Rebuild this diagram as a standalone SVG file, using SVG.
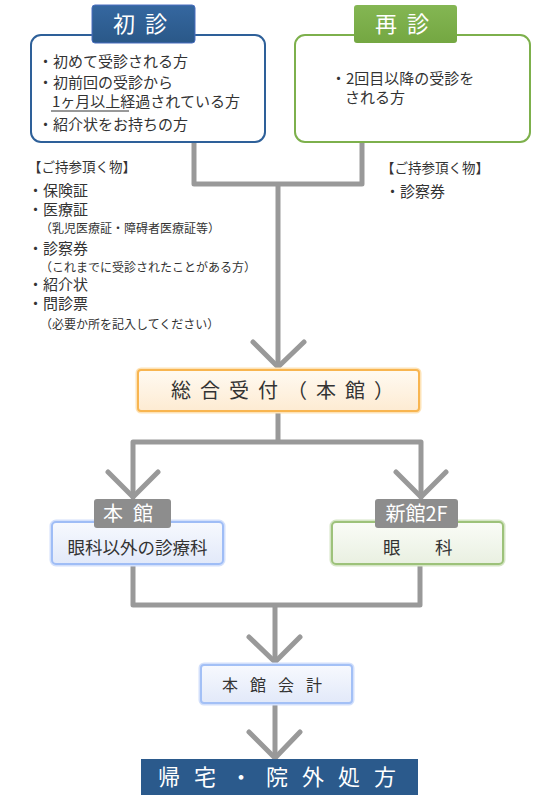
<svg xmlns="http://www.w3.org/2000/svg" width="550" height="800" viewBox="0 0 550 800">
<defs>
<style>
text{font-family:"Noto Sans CJK JP","Noto Sans",sans-serif;fill:#333}
.t{font-size:15px}
.s{font-size:12px}
.b{font-size:15px}
.w{fill:#fff}
.conn{fill:none;stroke:#999;stroke-width:5;stroke-linecap:round;stroke-linejoin:round}
</style>
<linearGradient id="gOr" x1="0" y1="0" x2="0" y2="1"><stop offset="0" stop-color="#fffaf2"/><stop offset="1" stop-color="#fdebd2"/></linearGradient>
<linearGradient id="gBl" x1="0" y1="0" x2="0" y2="1"><stop offset="0" stop-color="#f7f9fe"/><stop offset="1" stop-color="#e2e9f9"/></linearGradient>
<linearGradient id="gGr" x1="0" y1="0" x2="0" y2="1"><stop offset="0" stop-color="#fafcf7"/><stop offset="1" stop-color="#e9f0e1"/></linearGradient>
<linearGradient id="gNv" x1="0" y1="0" x2="0" y2="1"><stop offset="0" stop-color="#3567a0"/><stop offset="1" stop-color="#2a5888"/></linearGradient>
<linearGradient id="gGn" x1="0" y1="0" x2="0" y2="1"><stop offset="0" stop-color="#84b653"/><stop offset="1" stop-color="#74a742"/></linearGradient>
</defs>
<rect width="550" height="800" fill="#fff"/>

<g id="connectors">
<path class="conn" d="M194 142V184H362V142M278 184V366"/>
<path class="conn" d="M253 342L278 367L304 342"/>
<path class="conn" d="M278 411V442M133 497V442H421V497"/>
<path class="conn" d="M108 472L133 497L158 472M396 472L421 497L446 472"/>
<path class="conn" d="M133 565V605H420V565M275 605V661"/>
<path class="conn" d="M249 637L275 662L300 637"/>
<path class="conn" d="M275 703V758"/>
<path class="conn" d="M249 732L275 758L300 732"/>
</g>

<g id="shoshin">
<rect x="31" y="35" width="234" height="107" rx="10" fill="#fff" stroke="#2e6099" stroke-width="2"/>
<rect x="92" y="5" width="103" height="38" rx="3" fill="url(#gNv)" stroke="#4a6fc0" stroke-width="1"/>
<text x="113" y="32" class="w" style="font-size:22px;letter-spacing:10px">初診</text>
<text x="38" y="67" class="b">・初めて受診される方</text>
<text x="38" y="88" class="b">・初前回の受診から</text>
<text x="52" y="107" class="b">1ヶ月以上経過されている方</text>
<line x1="51" y1="111" x2="129" y2="111" stroke="#333" stroke-width="1"/>
<text x="38" y="130" class="b">・紹介状をお持ちの方</text>
</g>

<g id="saishin">
<rect x="295" y="35" width="235" height="107" rx="10" fill="#fff" stroke="#7db04c" stroke-width="2"/>
<rect x="354" y="5" width="103" height="38" rx="3" fill="url(#gGn)"/>
<text x="375" y="32" class="w" style="font-size:22px;letter-spacing:10px">再診</text>
<text x="331" y="84" class="b">・2回目以降の受診を</text>
<text x="345" y="103" class="b">される方</text>
</g>

<g id="items-left">
<text x="28" y="172" style="font-size:13.5px">【ご持参頂く物】</text>
<text x="28" y="196" class="t">・保険証</text>
<text x="28" y="215" class="t">・医療証</text>
<text x="40" y="233" class="s">（乳児医療証・障碍者医療証等）</text>
<text x="28" y="254" class="t">・診察券</text>
<text x="40" y="272" class="s">（これまでに受診されたことがある方）</text>
<text x="28" y="290" class="t">・紹介状</text>
<text x="28" y="309" class="t">・問診票</text>
<text x="40" y="329" class="s">（必要か所を記入してください）</text>
</g>

<g id="items-right">
<text x="381" y="173" style="font-size:13.5px">【ご持参頂く物】</text>
<text x="385" y="197" class="t">・診察券</text>
</g>

<g id="uketsuke">
<rect x="138" y="370" width="281" height="41" rx="3" fill="none" stroke="#fde3b8" stroke-width="5"/>
<rect x="138" y="370" width="281" height="41" rx="3" fill="url(#gOr)" stroke="#f8b550" stroke-width="2"/>
<text x="171" y="398" style="font-size:20px;letter-spacing:9px">総合受付（本館）</text>
</g>

<g id="honkan">
<rect x="52" y="522" width="171" height="42" rx="4" fill="none" stroke="#d3e0fb" stroke-width="5"/>
<rect x="52" y="522" width="171" height="42" rx="4" fill="url(#gBl)" stroke="#9fbdf6" stroke-width="2"/>
<rect x="94" y="499" width="77" height="29" rx="3" fill="#8d8d8d"/>
<text x="103" y="521" class="w" style="font-size:20px;letter-spacing:10px">本館</text>
<text x="137.5" y="554" text-anchor="middle" style="font-size:17.5px">眼科以外の診療科</text>
</g>

<g id="shinkan">
<rect x="332" y="522" width="171" height="42" rx="4" fill="none" stroke="#d5e5c5" stroke-width="5"/>
<rect x="332" y="522" width="171" height="42" rx="4" fill="url(#gGr)" stroke="#9dc27a" stroke-width="2"/>
<rect x="375" y="499" width="83" height="29" rx="3" fill="#8d8d8d"/>
<text x="416.5" y="521" class="w" text-anchor="middle" style="font-size:20px">新館2F</text>
<text x="383" y="554" style="font-size:17.5px">眼</text>
<text x="435" y="554" style="font-size:17.5px">科</text>
</g>

<g id="kaikei">
<rect x="201" y="665" width="151" height="38" rx="3" fill="none" stroke="#d3e0fb" stroke-width="5"/>
<rect x="201" y="665" width="151" height="38" rx="3" fill="url(#gBl)" stroke="#a3c0f6" stroke-width="2"/>
<text x="222" y="691" style="font-size:16px;letter-spacing:12px">本館会計</text>
</g>

<g id="kitaku">
<rect x="141" y="759" width="277" height="36" fill="#2b5a8c"/>
<text x="158" y="785" class="w" style="font-size:22px;letter-spacing:14px">帰宅・院外処方</text>
</g>
</svg>
